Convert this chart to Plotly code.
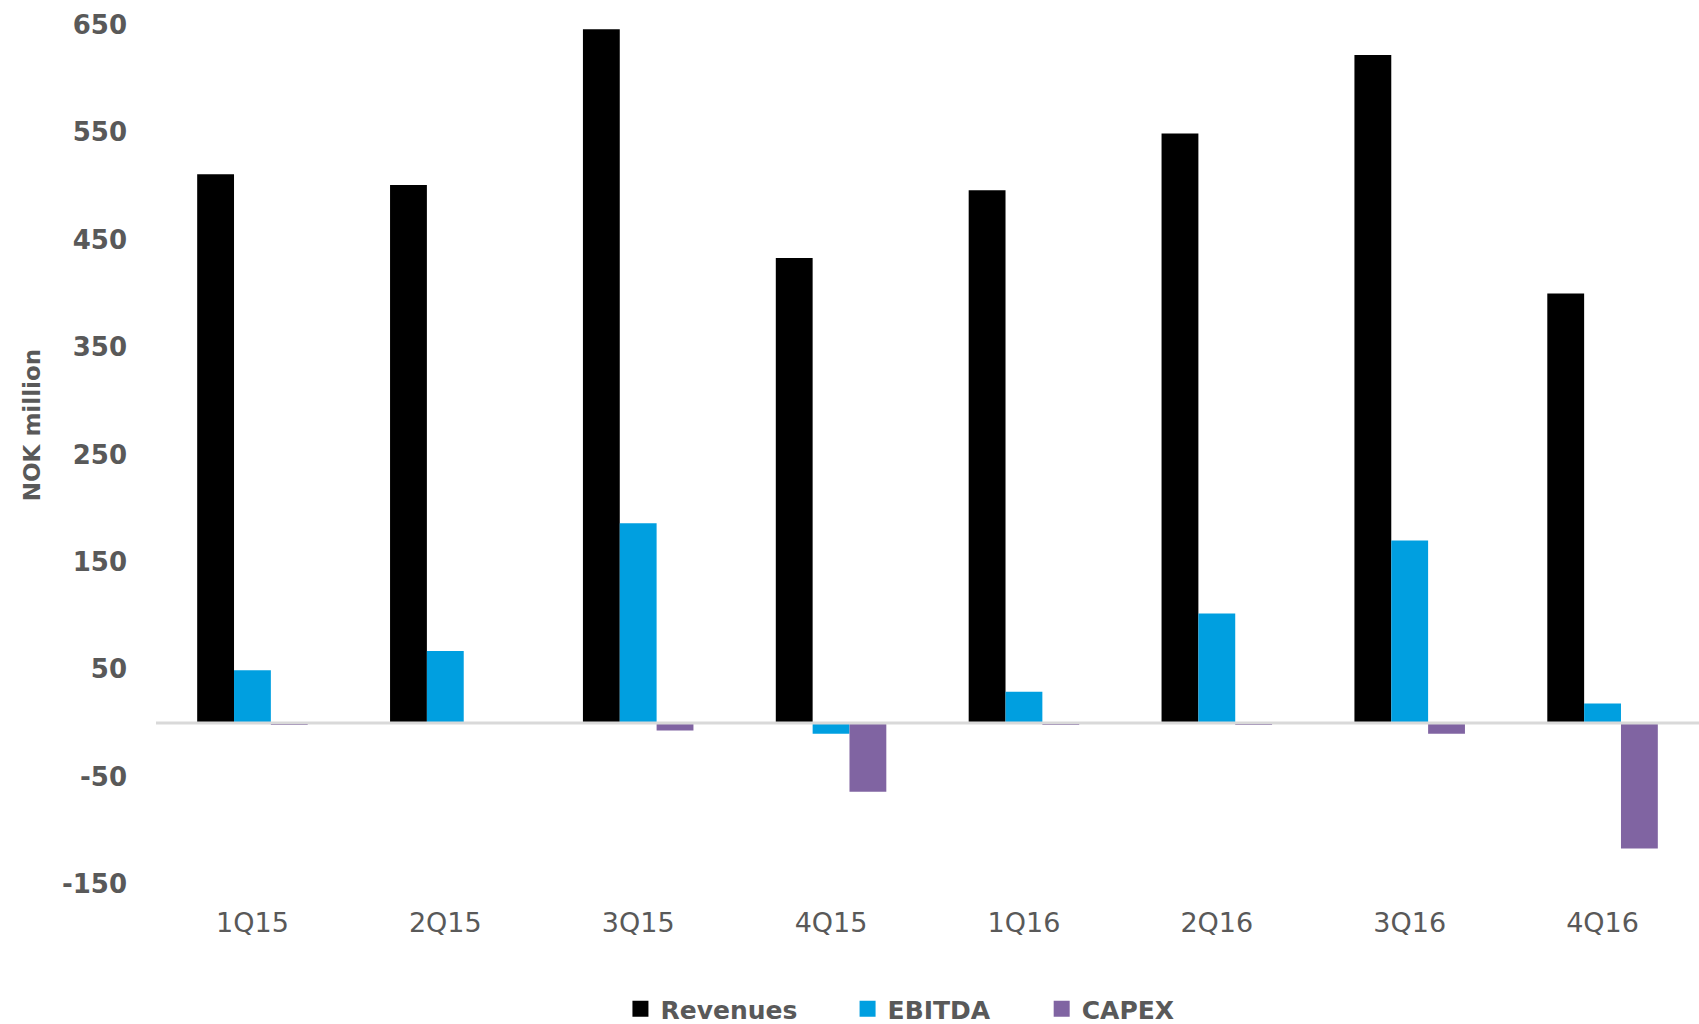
import plotly.graph_objects as go

# Quarterly figures, NOK million
quarters = ["1Q15", "2Q15", "3Q15", "4Q15", "1Q16", "2Q16", "3Q16", "4Q16"]
revenues = [511, 501, 646, 433, 496, 549, 622, 400]
ebitda = [49, 67, 186, -10, 29, 102, 170, 18]
capex = [-2, 0, -7, -64, -2, -2, -10, -117]

y_tick_values = [650, 550, 450, 350, 250, 150, 50, -50, -150]
y_tick_labels = ["650", "550", "450", "350", "250", "150", "50", "-50", "-150"]

series = [
    ("Revenues", revenues, "#000000", "legend", 0.301),
    ("EBITDA", ebitda, "#009FE0", "legend2", 0.4482),
    ("CAPEX", capex, "#8064A2", "legend3", 0.574),
]

GRAY = "#595959"
FONT = "DejaVu Sans"

fig = go.Figure()
for name, values, color, legend_id, _ in series:
    fig.add_trace(go.Bar(
        x=quarters, y=values, name=name,
        marker=dict(color=color, line=dict(width=0)),
        showlegend=False,
    ))
# legend swatches
for name, values, color, legend_id, _ in series:
    fig.add_trace(go.Scatter(
        x=[None], y=[None], name=name, mode="markers",
        marker=dict(symbol="square", size=17, color=color),
        legend=legend_id, showlegend=True,
    ))

legend_style = dict(
    orientation="h", yref="container", yanchor="middle", xanchor="left",
    y=0.0146,
    font=dict(family=FONT, size=25, color=GRAY, weight="bold"),
    bgcolor="rgba(0,0,0,0)", borderwidth=0,
)
fig.update_layout(
    legend=dict(x=series[0][4], **legend_style),
    legend2=dict(x=series[1][4], **legend_style),
    legend3=dict(x=series[2][4], **legend_style),
)

# zero baseline
fig.add_shape(type="line", xref="paper", x0=0, x1=1, yref="y", y0=0, y1=0,
              line=dict(color="#D9D9D9", width=3), layer="above")

fig.add_annotation(
    text="NOK million", textangle=-90, showarrow=False,
    xref="paper", yref="paper", x=-0.0804, y=0.534,
    xanchor="center", yanchor="middle",
    font=dict(family=FONT, size=23, color=GRAY, weight="bold"),
)

fig.update_layout(
    width=1699, height=1024,
    margin=dict(l=156, r=0, t=25, b=140, autoexpand=False),
    paper_bgcolor="white", plot_bgcolor="white",
    barmode="group", bargap=0.427, bargroupgap=0,
    xaxis=dict(
        type="category", range=[-0.5, 7.5], showgrid=False, zeroline=False,
        showline=False, ticks="",
        tickfont=dict(family=FONT, size=27, color=GRAY),
        ticklabelstandoff=20,
    ),
    yaxis=dict(
        range=[-150, 650], tickmode="array", tickvals=y_tick_values,
        ticktext=y_tick_labels, showgrid=False, zeroline=False,
        showline=False, ticks="",
        tickfont=dict(family=FONT, size=26, color=GRAY, weight="bold"),
        ticklabelstandoff=28,
    ),
)

fig.write_html("out.html")
